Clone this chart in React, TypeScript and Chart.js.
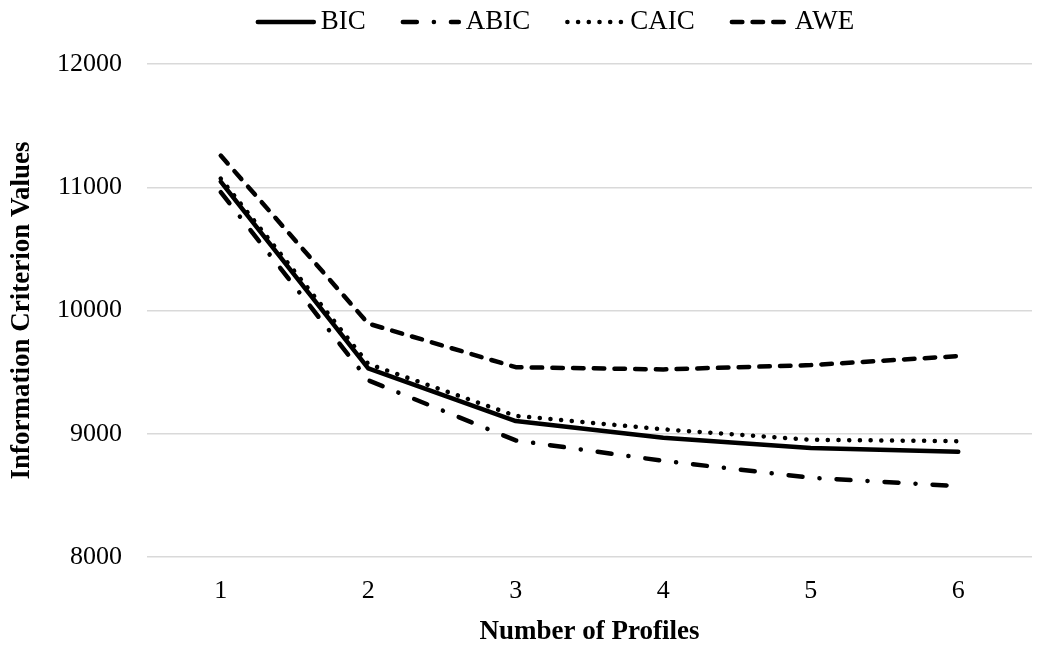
import { useEffect, useRef } from 'react';
import { Chart, registerables } from 'chart.js';

Chart.register(...registerables);

const categories = ['1', '2', '3', '4', '5', '6'];
const seriesNames = ['BIC', 'ABIC', 'CAIC', 'AWE'];
const bicValues = [11045, 9530, 9103, 8968, 8884, 8854];
const abicValues = [10960, 9434, 8946, 8780, 8643, 8575];
const caicValues = [11070, 9567, 9145, 9036, 8951, 8940];
const aweValues = [11257, 9894, 9540, 9522, 9557, 9630];
const yTicks = [8000, 9000, 10000, 11000, 12000];

const FONT = '"Liberation Serif", "Times New Roman", serif';

const legendPlugin = {
  id: 'customLegend',
  afterDraw(chart: any) {
    const ctx = chart.ctx;
    ctx.save();
    ctx.font = `27px ${FONT}`;
    const sample = 60;
    const gap = 5;
    const spacing = 35;
    const items = chart.data.datasets.map((ds: any) => ({ ds, w: ctx.measureText(ds.label).width }));
    const total =
      items.reduce((s: number, it: any) => s + sample + gap + it.w, 0) + spacing * (items.length - 1);
    let x = 555 - total / 2;
    const y = 22;
    items.forEach(({ ds, w }: any) => {
      ctx.beginPath();
      ctx.setLineDash(ds.borderDash || []);
      ctx.lineWidth = ds.borderWidth;
      ctx.strokeStyle = ds.borderColor;
      ctx.lineCap = ds.borderCapStyle || 'butt';
      ctx.moveTo(x + 2, y);
      ctx.lineTo(x + sample - 2, y);
      ctx.stroke();
      ctx.setLineDash([]);
      ctx.fillStyle = '#000';
      ctx.textBaseline = 'middle';
      ctx.textAlign = 'left';
      ctx.fillText(ds.label, x + sample + gap, y);
      x += sample + gap + w + spacing;
    });
    ctx.restore();
  },
};

export default function App() {
  const canvasRef = useRef<HTMLCanvasElement>(null);

  useEffect(() => {
    if (!canvasRef.current) return;
    const common = {
      borderColor: '#000',
      backgroundColor: '#000',
      borderWidth: 4.5,
      pointRadius: 0,
      pointHoverRadius: 0,
      tension: 0,
      fill: false,
      borderCapStyle: 'round' as const,
      borderJoinStyle: 'round' as const,
    };
    const chart = new Chart(canvasRef.current, {
      type: 'line',
      data: {
        labels: categories,
        datasets: [
          { ...common, label: seriesNames[0], data: bicValues, borderDash: [] },
          { ...common, label: seriesNames[1], data: abicValues, borderDash: [14, 17, 0.1, 17] },
          { ...common, label: seriesNames[2], data: caicValues, borderDash: [0.1, 10.6] },
          { ...common, label: seriesNames[3], data: aweValues, borderDash: [10.5, 10.2] },
        ],
      },
      options: {
        responsive: false,
        animation: false,
        layout: { padding: { top: 64, right: 18, left: 0, bottom: 0 } },
        plugins: {
          legend: { display: false },
          tooltip: { enabled: false },
        },
        scales: {
          x: {
            type: 'category',
            offset: true,
            grid: { display: false, drawTicks: false },
            border: { display: false },
            ticks: {
              color: '#000',
              padding: 19,
              font: { family: FONT, size: 26 },
            },
            title: {
              display: true,
              text: 'Number of Profiles',
              color: '#000',
              font: { family: FONT, size: 27, weight: 'bold' },
              padding: { top: 0, bottom: 5 },
            },
            afterFit: (scale: any) => {
              scale.height = 96;
            },
          },
          y: {
            min: 8000,
            max: 12000,
            afterBuildTicks: (scale: any) => {
              scale.ticks = yTicks.map((v) => ({ value: v }));
            },
            grid: { color: '#d9d9d9', lineWidth: 1.5, drawTicks: false },
            border: { display: false },
            ticks: {
              color: '#000',
              padding: 25,
              font: { family: FONT, size: 26 },
              callback: (value: any) => String(value),
            },
            title: {
              display: true,
              text: 'Information Criterion Values',
              color: '#000',
              font: { family: FONT, size: 27, weight: 'bold' },
              padding: { top: 6, bottom: 0 },
            },
            afterFit: (scale: any) => {
              scale.width = 147;
            },
          },
        },
      },
      plugins: [legendPlugin],
    });
    return () => chart.destroy();
  }, []);

  return (
    <div style={{ position: 'absolute', left: 0, top: 0, width: 1050, height: 653, background: '#fff' }}>
      <canvas ref={canvasRef} width={1050} height={653} style={{ display: 'block' }} />
    </div>
  );
}
